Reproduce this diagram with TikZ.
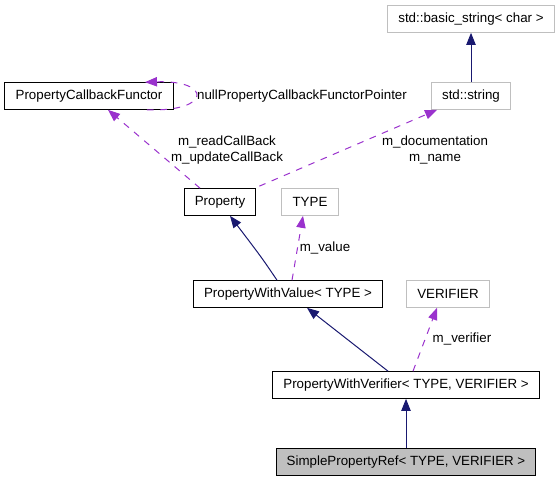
\documentclass[tikz,border=0pt]{standalone}
\usepackage{fontspec}
\setmainfont{Liberation Sans}
\usepackage{xcolor}
\usetikzlibrary{arrows.meta,calc}

\definecolor{midnight}{HTML}{191970}
\definecolor{orchid}{HTML}{9A32CD}
\definecolor{greyline}{HTML}{BFBFBF}

\tikzset{
  cls/.style={draw=black, line width=0.75pt, minimum height=20pt,
    inner xsep=8pt, inner ysep=0pt, font=\fontsize{10}{12}\selectfont},
  extcls/.style={cls, draw=greyline},
  curcls/.style={cls, fill=greyline},
  inherit/.style={draw=midnight, line width=0.75pt,
    -{Triangle[length=9pt,width=7pt]}},
  uses/.style={draw=orchid, line width=0.75pt, dash pattern=on 5pt off 5pt,
    -{Triangle[length=9pt,width=7pt,fill=orchid]}},
  lbl/.style={font=\fontsize{10}{12}\selectfont, align=center, inner sep=0pt}
}

\begin{document}
\begin{tikzpicture}[x=0.75pt,y=-0.75pt]
  \useasboundingbox (0,0) rectangle (558,480);
  % classes
  \node[extcls] (bstr) at (471,19) {std::basic\_string< char >};
  \node[extcls] (str) at (471,96) {std::string};
  \node[cls] (pcf) at (89,96) {PropertyCallbackFunctor};
  \node[cls] (prop) at (220,202) {Property};
  \node[extcls] (type) at (310,202) {TYPE};
  \node[cls] (pwval) at (288,294) {PropertyWithValue< TYPE >};
  \node[extcls] (verif) at (448,294) {VERIFIER};
  \node[cls] (pwverif) at (406,385) {PropertyWithVerifier< TYPE, VERIFIER >};
  \node[curcls] (spref) at (406,462) {SimplePropertyRef< TYPE, VERIFIER >};
  % inheritance
  \draw[inherit] (str.north) -- (bstr.south);
  \draw[inherit] (spref.north) -- (pwverif.south);
  \draw[inherit] ($(pwverif.north)+(-18,0)$) -- ($(pwval.south)+(19,0)$);
  \draw[inherit] ($(pwval.north)+(-11,0)$) .. controls (262,258) .. ($(prop.south)+(10,0)$);
  % usage
  \draw[uses] ($(pwval.north)+(4,0)$) -- ($(type.south)+(-7,0)$);
  \draw[uses] ($(pwverif.north)+(7,0)$) -- ($(verif.south)+(-11,0)$);
  \draw[uses] ($(prop.north)+(-20,0)$) -- ($(pcf.south)+(19,0)$);
  \draw[uses] ($(prop.north east)+(3,-2)$) -- ($(str.south)+(-34,0)$);
  \draw[uses] ($(pcf.south)+(58,0)$) .. controls (212,112) and (212,80) .. ($(pcf.north)+(56,0)$);
  % labels
  \node[lbl] (lnull) at (302,96) {nullPropertyCallbackFunctorPointer};
  \node[lbl] (lcb) at (227,150) {m\_readCallBack\\m\_updateCallBack};
  \node[lbl] (ldoc) at (435,150) {m\_documentation\\m\_name};
  \node[lbl] (lval) at (325,248) {m\_value};
  \node[lbl] (lver) at (462,339) {m\_verifier};
\end{tikzpicture}
\end{document}
